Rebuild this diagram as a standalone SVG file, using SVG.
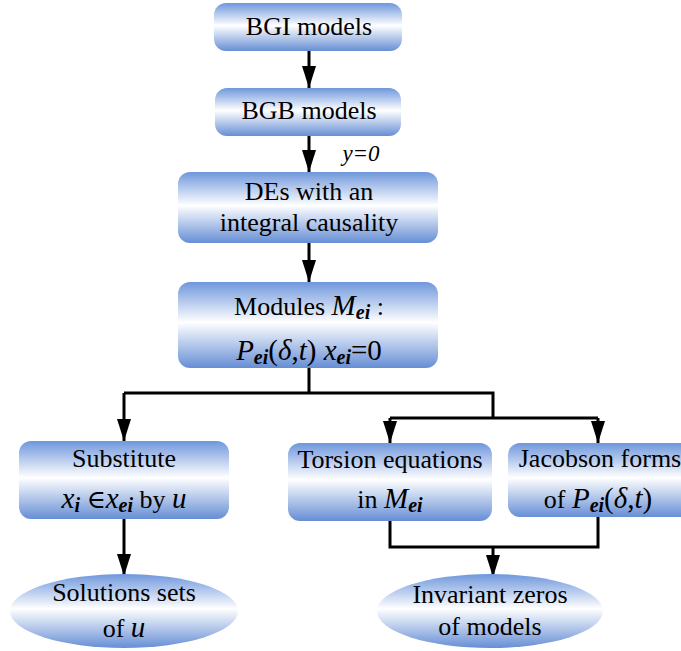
<svg xmlns="http://www.w3.org/2000/svg" width="681" height="651" viewBox="0 0 681 651">
<defs>
<linearGradient id="g" x1="0" y1="0" x2="0" y2="1">
<stop offset="0" stop-color="#6f97dc"/>
<stop offset="0.47" stop-color="#ffffff"/>
<stop offset="1" stop-color="#668ed5"/>
</linearGradient>
<marker id="ah" viewBox="0 0 22 14" refX="22" refY="7" markerWidth="22" markerHeight="14" markerUnits="userSpaceOnUse" orient="auto">
<path d="M0,0 L22,7 L0,14 Z" fill="#000"/>
</marker>
<style>
.n{fill:url(#g);stroke:none}
.t{font-family:"Liberation Serif","DejaVu Serif",serif;font-size:26px;fill:#000;text-anchor:middle}
.m{font-style:italic;font-size:29px}
.s{font-style:italic;font-weight:bold;font-size:20px}
.c{fill:none;stroke:#000;stroke-width:3}
</style>
</defs>
<rect width="681" height="651" fill="#fff"/>
<g id="connectors">
<path class="c" d="M309,51 V88" marker-end="url(#ah)"/>
<path class="c" d="M309,136 V172" marker-end="url(#ah)"/>
<path class="c" d="M309,243 V282" marker-end="url(#ah)"/>
<path class="c" d="M309,368 V393 M124,393 H493 V418"/>
<path class="c" d="M124,393 V441" marker-end="url(#ah)"/>
<path class="c" d="M390,418 H598"/>
<path class="c" d="M390,418 V443" marker-end="url(#ah)"/>
<path class="c" d="M598,418 V443" marker-end="url(#ah)"/>
<path class="c" d="M124,519 V576" marker-end="url(#ah)"/>
<path class="c" d="M390,521 V547 H598 V517"/>
<path class="c" d="M493,547 V577" marker-end="url(#ah)"/>
<text class="t" x="361" y="161" style="font-style:italic;font-size:23px">y=0</text>
</g>
<g id="bgi">
<rect class="n" x="214" y="3" width="188" height="48" rx="12"/>
<text class="t" x="309" y="35">BGI models</text>
</g>
<g id="bgb">
<rect class="n" x="215" y="88" width="186" height="48" rx="12"/>
<text class="t" x="309" y="119">BGB models</text>
</g>
<g id="des">
<rect class="n" x="178" y="172" width="260" height="71" rx="12"/>
<text class="t" x="309" y="200">DEs with an</text>
<text class="t" x="309" y="231">integral causality</text>
</g>
<g id="modules">
<rect class="n" x="178" y="282" width="260" height="86" rx="12"/>
<text class="t" x="309" y="315">Modules <tspan class="m">M</tspan><tspan class="s" dy="4">ei</tspan><tspan dy="-4"> :</tspan></text>
<text class="t" x="309" y="360"><tspan class="m">P</tspan><tspan class="s" dy="4">ei</tspan><tspan dy="-4" style="font-size:29px">(</tspan><tspan class="m">δ</tspan><tspan style="font-size:29px">,</tspan><tspan class="m">t</tspan><tspan style="font-size:29px">) </tspan><tspan class="m">x</tspan><tspan class="s" dy="4">ei</tspan><tspan dy="-4" style="font-size:29px">=0</tspan></text>
</g>
<g id="substitute">
<rect class="n" x="19" y="441" width="210" height="78" rx="12"/>
<text class="t" x="124" y="467">Substitute</text>
<text class="t" x="124" y="508"><tspan class="m">x</tspan><tspan class="s" dy="4">i</tspan><tspan dy="-4"> ∈</tspan><tspan class="m">x</tspan><tspan class="s" dy="4">ei</tspan><tspan dy="-4"> by </tspan><tspan class="m">u</tspan></text>
</g>
<g id="torsion">
<rect class="n" x="288" y="443" width="204" height="78" rx="12"/>
<text class="t" x="390" y="468">Torsion equations</text>
<text class="t" x="390" y="508">in  <tspan class="m">M</tspan><tspan class="s" dy="4">ei</tspan></text>
</g>
<g id="jacobson">
<rect class="n" x="508" y="443" width="184" height="74" rx="12"/>
<text class="t" x="600" y="467">Jacobson forms</text>
<text class="t" x="598" y="508">of <tspan class="m">P</tspan><tspan class="s" dy="4">ei</tspan><tspan dy="-4" style="font-size:29px">(</tspan><tspan class="m">δ</tspan><tspan style="font-size:29px">,</tspan><tspan class="m">t</tspan><tspan style="font-size:29px">)</tspan></text>
</g>
<g id="solutions">
<ellipse class="n" cx="124" cy="611" rx="114" ry="37"/>
<text class="t" x="124" y="601">Solutions sets</text>
<text class="t" x="124" y="637">of  <tspan class="m">u</tspan></text>
</g>
<g id="invariant">
<ellipse class="n" cx="490" cy="611" rx="113" ry="37"/>
<text class="t" x="490" y="603">Invariant zeros</text>
<text class="t" x="490" y="635">of models</text>
</g>
</svg>
